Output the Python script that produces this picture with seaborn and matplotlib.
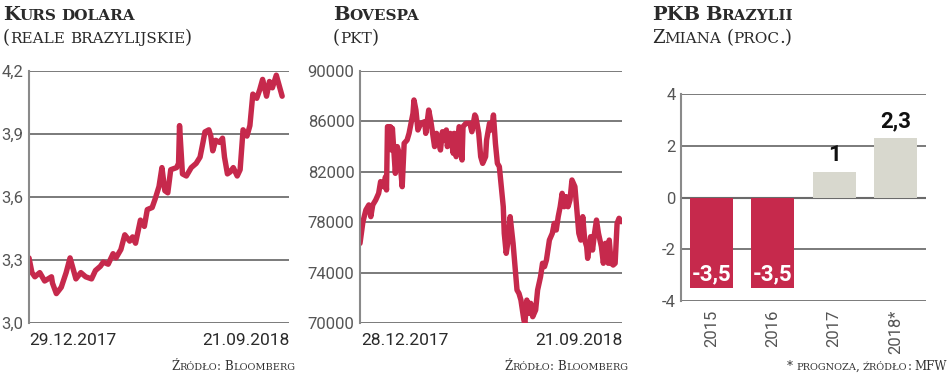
import numpy as np
import pandas as pd
import matplotlib
matplotlib.use("Agg")
import matplotlib.pyplot as plt
import seaborn as sns

# --- data ---
usd_start = "2017-12-29"
usd_days = [0, 3, 6, 11, 16, 23, 24, 28, 33, 38, 42, 48, 53, 58, 64, 68, 73, 76, 81, 86,
            89, 94, 98, 103, 106, 109, 114, 118, 121, 126, 129, 133, 136, 139, 142, 145,
            151, 153, 154, 157, 161, 166, 171, 175, 178, 180, 184, 186, 188, 191, 195,
            198, 200, 203, 206, 209, 213, 216, 219, 223, 226, 229, 233, 236, 239, 243,
            246, 249, 253, 256, 259]
usd_brl = [3.31, 3.24, 3.22, 3.24, 3.20, 3.22, 3.19, 3.14, 3.17, 3.24, 3.31, 3.21, 3.24,
           3.22, 3.21, 3.25, 3.27, 3.29, 3.28, 3.33, 3.31, 3.35, 3.42, 3.39, 3.41, 3.38,
           3.49, 3.46, 3.54, 3.55, 3.59, 3.65, 3.74, 3.63, 3.62, 3.73, 3.74, 3.76, 3.94,
           3.71, 3.70, 3.74, 3.76, 3.79, 3.86, 3.91, 3.92, 3.89, 3.82, 3.87, 3.86, 3.88,
           3.79, 3.71, 3.72, 3.74, 3.70, 3.73, 3.92, 3.89, 3.94, 4.09, 4.07, 4.11, 4.16,
           4.08, 4.15, 4.12, 4.18, 4.13, 4.08]

bov_start = "2017-12-28"
bov_days = [0, 3, 6, 9, 11, 13, 16, 19, 21, 24, 26, 27, 28, 31, 32, 33, 36, 38, 40, 43,
            45, 48, 50, 54, 55, 57, 59, 62, 66, 67, 70, 72, 76, 78, 79, 82, 84, 86, 88,
            89, 92, 95, 96, 98, 101, 104, 105, 108, 112, 114, 117, 118, 121, 123, 125,
            128, 129, 132, 134, 136, 138, 140, 142, 144, 146, 147, 149, 151, 153, 156,
            158, 160, 162, 164, 167, 168, 170, 172, 174, 176, 179, 181, 184, 186, 188,
            190, 193, 196, 198, 200, 202, 204, 206, 208, 210, 212, 214, 216, 219, 221,
            223, 225, 227, 229, 231, 232, 235, 237, 239, 241, 243, 246, 248, 250, 253,
            254, 256, 258, 260, 262, 264, 266]
bovespa = [76320, 78040, 78970, 79370, 78440, 79370, 79760, 80290, 81220, 80820, 81610,
           80560, 85580, 85580, 83730, 85450, 81880, 84000, 83470, 80820, 84260, 84520,
           85050, 86640, 87700, 86900, 85320, 85850, 85980, 85050, 86900, 86110, 84000,
           85050, 84790, 83730, 85180, 84520, 85320, 84000, 85050, 83470, 85050, 83200,
           85580, 82940, 85580, 85850, 85850, 85180, 86510, 86380, 85050, 83200, 82670,
           83200, 84520, 85850, 85320, 86510, 84260, 82670, 82410, 80820, 79230, 77120,
           75530, 76580, 78440, 76320, 74470, 72620, 72350, 71820, 70240, 69950, 71820,
           70760, 71560, 70500, 71030, 72620, 73680, 74740, 74470, 75000, 76580, 77120,
           77910, 77380, 78440, 79230, 80290, 79230, 80030, 79230, 79760, 81350, 80820,
           78970, 77120, 76580, 78440, 76580, 76060, 75130, 76850, 75790, 77120, 78170,
           77120, 76060, 74740, 76320, 74740, 76580, 74740, 74600, 74740, 77910, 78310,
           78040]

gdp_years = ["2015", "2016", "2017", "2018*"]
gdp_change = [-3.5, -3.5, 1.0, 2.3]
gdp_labels = ["-3,5", "-3,5", "1", "2,3"]

RED = "#c6294c"
GREY_BAR = "#d8d8ce"
GRID = "#707070"
TXT = "#2a2a2a"

W, H = 948, 373
sns.set_theme(style="white")
plt.rcParams["font.family"] = ["Roboto", "DejaVu Sans"]

fig = plt.figure(figsize=(W / 100, H / 100), dpi=100)
renderer = fig.canvas.get_renderer()


def px_axes(left, top, right, bottom):
    return fig.add_axes([left / W, 1 - bottom / H, (right - left) / W, (bottom - top) / H])


def small_caps(x, y, s, big, small, weight="normal", ha="left", color=TXT):
    # fake small caps: capitals at "big" size, lower case letters upper-cased at "small"
    tokens = []
    for ch in s:
        if ch == " ":
            tokens.append([" ", None])
            continue
        is_big = not ch.islower()
        if tokens and tokens[-1][1] == is_big:
            tokens[-1][0] += ch
        else:
            tokens.append([ch, is_big])
    items = []
    total = 0
    for txt, is_big in tokens:
        if is_big is None:
            items.append((None, small * 0.32 * 100 / 72))
            total += items[-1][1]
            continue
        t = fig.text(0, 1 - y / H, txt.upper(), fontsize=big if is_big else small,
                     fontweight=weight, family="DejaVu Serif", color=color, va="baseline")
        w = t.get_window_extent(renderer).width
        items.append((t, w))
        total += w
    cur = x if ha == "left" else x - total
    for t, w in items:
        if t is not None:
            t.set_x(cur / W)
        cur += w


def style_line_axes(ax, ticks, labels):
    ax.set_yticks(ticks)
    ax.set_yticklabels(labels, fontsize=12, color="#555555")
    ax.set_xticks([])
    ax.grid(axis="y", color=GRID, lw=1.3)
    for side in ["top", "right", "bottom"]:
        ax.spines[side].set_visible(False)
    ax.spines["left"].set_color("#8a8a8a")
    ax.spines["left"].set_linewidth(1.5)
    ax.tick_params(axis="y", length=0, pad=4)
    ax.set_xlabel("")
    ax.set_ylabel("")


# --- panel 1: USD/BRL ---
ax1 = px_axes(29, 71, 289, 323)
df1 = pd.DataFrame({"date": pd.Timestamp(usd_start) + pd.to_timedelta(usd_days, unit="D"),
                    "value": usd_brl})
sns.lineplot(data=df1, x="date", y="value", ax=ax1, color=RED, lw=3.9)
ax1.set_xlim(pd.Timestamp(usd_start), pd.Timestamp("2018-09-21"))
ax1.set_ylim(3.0, 4.2)
style_line_axes(ax1, [3.0, 3.3, 3.6, 3.9, 4.2], ["3,0", "3,3", "3,6", "3,9", "4,2"])
fig.text(29 / W, 1 - 345 / H, "29.12.2017", fontsize=12.5, color=TXT, ha="left", va="baseline")
fig.text(290 / W, 1 - 345 / H, "21.09.2018", fontsize=12.5, color=TXT, ha="right", va="baseline")

# --- panel 2: Bovespa ---
ax2 = px_axes(360, 71, 622, 323)
df2 = pd.DataFrame({"date": pd.Timestamp(bov_start) + pd.to_timedelta(bov_days, unit="D"),
                    "value": bovespa})
sns.lineplot(data=df2, x="date", y="value", ax=ax2, color=RED, lw=3.9)
ax2.set_xlim(pd.Timestamp(bov_start), pd.Timestamp("2018-09-21"))
ax2.set_ylim(70000, 90000)
bov_ticks = [70000, 74000, 78000, 82000, 86000, 90000]
style_line_axes(ax2, bov_ticks, [str(v) for v in bov_ticks])
fig.text(361 / W, 1 - 345 / H, "28.12.2017", fontsize=12.5, color=TXT, ha="left", va="baseline")
fig.text(623 / W, 1 - 345 / H, "21.09.2018", fontsize=12.5, color=TXT, ha="right", va="baseline")

# --- panel 3: GDP ---
ax3 = px_axes(681, 94, 926, 301)
df3 = pd.DataFrame({"year": gdp_years, "change": gdp_change})
sns.barplot(data=df3, x="year", y="change", hue="year", ax=ax3,
            palette=[RED, RED, GREY_BAR, GREY_BAR], width=0.7, legend=False,
            saturation=1, linewidth=0)
ax3.set_xlim(-0.5, 3.5)
ax3.set_ylim(-4, 4)
ax3.set_yticks([-4, -2, 0, 2, 4])
ax3.set_yticklabels(["-4", "-2", "0", "2", "4"], fontsize=12, color="#555555")
ax3.grid(axis="y", color=GRID, lw=1.3)
ax3.set_axisbelow(True)
ax3.axhline(0, color="#333333", lw=1.5, zorder=0.5)
for side in ["top", "right", "bottom"]:
    ax3.spines[side].set_visible(False)
ax3.spines["left"].set_color("#8a8a8a")
ax3.spines["left"].set_linewidth(1.5)
ax3.tick_params(axis="y", length=0, pad=4)
ax3.tick_params(axis="x", length=0, pad=6)
ax3.set_xticks(range(len(gdp_years)))
ax3.set_xticklabels(gdp_years, rotation=90, fontsize=12, color="#555555")
ax3.set_xlabel("")
ax3.set_ylabel("")
for i, (v, lab) in enumerate(zip(gdp_change, gdp_labels)):
    if v < 0:
        ax3.text(i, v + 0.12, lab, ha="center", va="bottom", color="white",
                 fontsize=16, fontweight="bold")
    else:
        ax3.text(i, v + 0.2, lab, ha="center", va="bottom", color="#111111",
                 fontsize=16, fontweight="bold")

# --- titles and sources ---
small_caps(3, 20, "Kurs dolara", 14, 11, weight="bold")
small_caps(3, 43, "(reale brazylijskie)", 13, 11)
small_caps(333, 20, "Bovespa", 14, 11, weight="bold")
small_caps(333, 43, "(pkt)", 13, 11)
small_caps(652, 20, "PKB Brazylii", 14, 11, weight="bold")
small_caps(652, 43, "Zmiana (proc.)", 13, 11)
small_caps(295, 370, "Źródło: Bloomberg", 8.5, 7, ha="right", color="#333333")
small_caps(628, 370, "Źródło: Bloomberg", 8.5, 7, ha="right", color="#333333")
small_caps(947, 370, "* prognoza, źródło: MFW", 8.5, 7, ha="right", color="#333333")

fig.savefig("out.png", dpi=100, facecolor="white")
